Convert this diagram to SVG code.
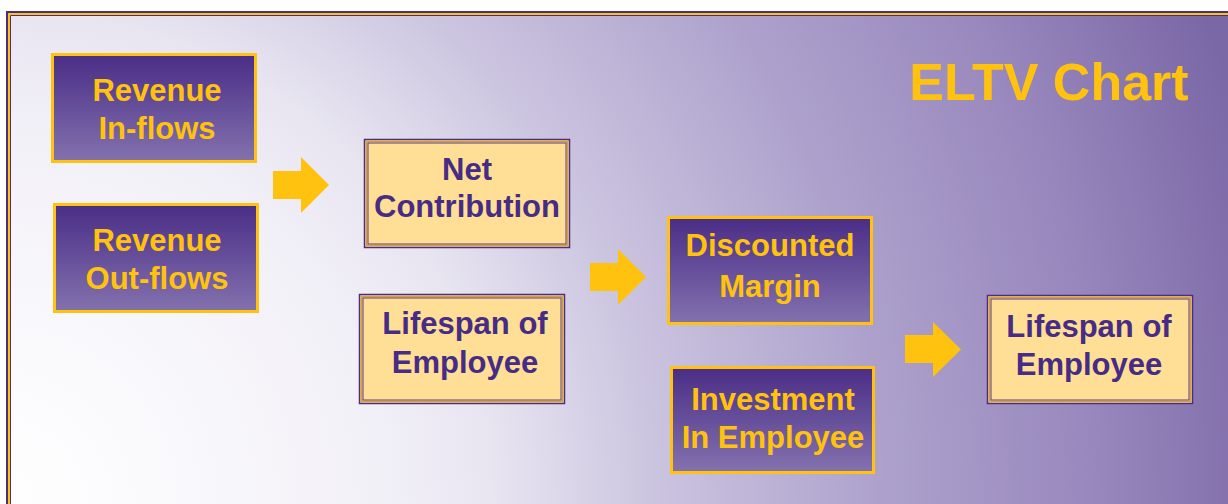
<svg xmlns="http://www.w3.org/2000/svg" width="1228" height="504" viewBox="0 0 1228 504">
  <defs>
    <radialGradient id="bg" gradientUnits="userSpaceOnUse" cx="0" cy="504" r="1300">
      <stop offset="0" stop-color="#ffffff"/>
      <stop offset="0.28" stop-color="#f3f1f8"/>
      <stop offset="0.38" stop-color="#e8e5f1"/>
      <stop offset="0.5" stop-color="#ccc5e0"/>
      <stop offset="0.68" stop-color="#ada1cc"/>
      <stop offset="0.85" stop-color="#9786bc"/>
      <stop offset="1" stop-color="#7a67a6"/>
    </radialGradient>
    <linearGradient id="dark" x1="0" y1="0" x2="0" y2="1">
      <stop offset="0" stop-color="#4a2d86"/>
      <stop offset="1" stop-color="#8372ae"/>
    </linearGradient>
    <style>
      .dark rect { fill: url(#dark); stroke: #ffc20e; stroke-width: 3; }
      .dark text { fill: #ffc20e; }
      .light .o { fill: #ffdf95; stroke: #4a2d86; stroke-width: 1.5; }
      .light .m { fill: none; stroke: #d7a034; stroke-width: 1.5; }
      .light .i { fill: none; stroke: #5a3a8c; stroke-width: 1; }
      .light text { fill: #472c85; }
      text { font-family: "Liberation Sans", Arial, sans-serif; font-weight: bold; font-size: 31px; text-anchor: middle; }
      .arrow { fill: #ffc20e; }
    </style>
  </defs>
  <rect x="0" y="0" width="1228" height="504" fill="#ffffff"/>
  <rect x="10" y="15" width="1230" height="500" fill="url(#bg)"/>
  <!-- frame -->
  <path d="M7 512 V12 H1240" fill="none" stroke="#4a2d86" stroke-width="2"/>
  <path d="M9 512 V14 H1240" fill="none" stroke="#ffc20e" stroke-width="2"/>
  <path d="M10.5 512 V15.5 H1240" fill="none" stroke="#4a2d86" stroke-width="1"/>

  <text x="1049" y="100" style="font-size:52px" fill="#ffc20e">ELTV Chart</text>

  <g id="revenue-inflows" class="dark">
    <rect x="52.5" y="54.5" width="203" height="107"/>
    <text x="157" y="100.5">Revenue</text>
    <text x="157" y="138.5">In-flows</text>
  </g>
  <g id="revenue-outflows" class="dark">
    <rect x="54.5" y="204.5" width="203" height="107"/>
    <text x="157" y="251">Revenue</text>
    <text x="157" y="289">Out-flows</text>
  </g>
  <g id="net-contribution" class="light">
    <rect class="o" x="364.5" y="139.5" width="205" height="108"/>
    <rect class="m" x="366.5" y="141.5" width="201" height="104"/>
    <rect class="i" x="368" y="143" width="198" height="101"/>
    <text x="467" y="180">Net</text>
    <text x="467" y="217">Contribution</text>
  </g>
  <g id="lifespan-1" class="light">
    <rect class="o" x="359.5" y="294.5" width="205" height="109"/>
    <rect class="m" x="361.5" y="296.5" width="201" height="105"/>
    <rect class="i" x="363" y="298" width="198" height="102"/>
    <text x="465" y="334">Lifespan of</text>
    <text x="465" y="372.5">Employee</text>
  </g>
  <g id="discounted-margin" class="dark">
    <rect x="668.5" y="217.5" width="203" height="106"/>
    <text x="770" y="256">Discounted</text>
    <text x="770" y="297">Margin</text>
  </g>
  <g id="investment" class="dark">
    <rect x="671.5" y="367.5" width="202" height="105"/>
    <text x="773" y="410">Investment</text>
    <text x="773" y="448">In Employee</text>
  </g>
  <g id="lifespan-2" class="light">
    <rect class="o" x="987.5" y="295.5" width="205" height="108"/>
    <rect class="m" x="989.5" y="297.5" width="201" height="104"/>
    <rect class="i" x="991" y="299" width="198" height="101"/>
    <text x="1089" y="337">Lifespan of</text>
    <text x="1089" y="375">Employee</text>
  </g>

  <g id="connectors">
    <polygon class="arrow" points="273,171 301,171 301,157 329,185 301,213 301,199 273,199"/>
    <polygon class="arrow" points="590,263 618,263 618,249 646,277 618,305 618,291 590,291"/>
    <polygon class="arrow" points="905,335 933,335 933,322 961,349.5 933,377 933,363 905,363"/>
  </g>
</svg>
